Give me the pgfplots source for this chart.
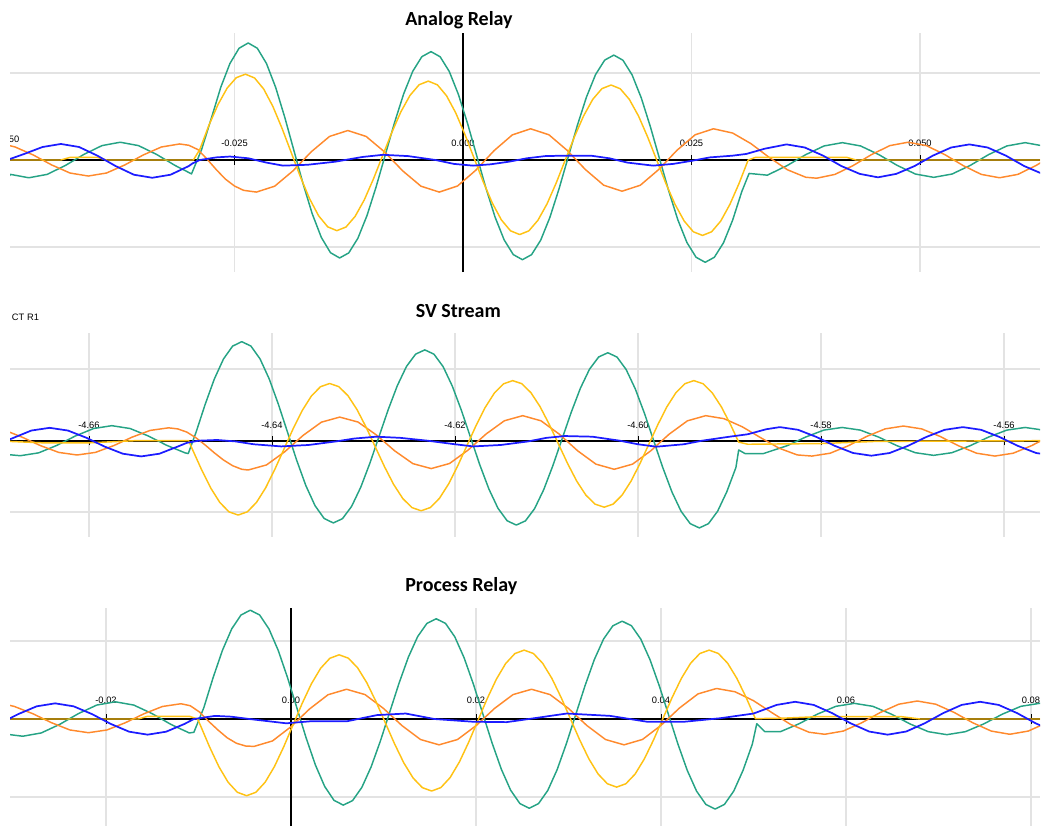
\documentclass[border=0pt]{standalone}
\usepackage{fontspec}
\setmainfont{Liberation Sans}
\newfontfamily\titlefont{Carlito}
\usepackage{pgfplots}
\pgfplotsset{compat=1.18}
\definecolor{cgreen}{RGB}{38,163,133}
\definecolor{cyellow}{RGB}{255,194,20}
\definecolor{corange}{RGB}{255,138,45}
\definecolor{cblue}{RGB}{28,28,255}
\newcommand{\tickfont}{\fontsize{7}{8}\selectfont}
\pgfplotsset{
  wavebase/.style={
    scale only axis, width=772.5pt,
    axis lines=middle,
    axis line style={-},
    every inner x axis line/.append style={-, black, line width=1.4pt},
    every inner y axis line/.append style={-, black, line width=1.2pt},
    enlargelimits=false,
    grid=major,
    grid style={draw=gray!22, line width=1.3pt},
    ytick={-1,1}, yticklabels={},
    ytick style={draw=none},
    xtick style={black, line width=0.7pt},
    major tick length=7pt,
    tick align=center,
    hide obscured x ticks=false,
    xticklabel style={font=\tickfont, anchor=base, inner sep=0pt},
    every axis plot/.append style={line width=1.1pt, line join=round},
  },
}
\begin{document}
\begin{tikzpicture}
% ---------------- Panel 1: Analog Relay ----------------
\begin{axis}[wavebase, at={(7.5pt,-204pt)}, anchor=south west, height=179.25pt,
  xmin=-49.56, xmax=63.13, ymin=-1.292, ymax=1.465,
  xticklabel style={yshift=13.3pt},
  xtick={-25,0,25,50}, xticklabels={-0.025,0.000,0.025,0.050}]
\addplot[cgreen] coordinates {
(-49.6,-0.18) (-49.5,-0.166) (-47.5,-0.205) (-45.5,-0.166) (-43.5,-0.063) (-41.5,0.063) (-39.5,0.166) (-37.5,0.205) (-35.5,0.166) (-33.5,0.063) (-31.5,-0.063) (-29.7,-0.16)
(-28.6,0.12) (-27.5,0.493) (-26.5,0.839) (-25.5,1.113) (-24.5,1.289) (-23.5,1.35)
(-22.5,1.289) (-21.5,1.113) (-20.5,0.839) (-19.5,0.493) (-18.5,0.11) (-17.5,-0.273) (-16.5,-0.619) (-15.5,-0.893) (-14.5,-1.069) (-13.5,-1.13)
(-12.5,-1.072) (-11.5,-0.903) (-10.5,-0.640) (-9.5,-0.308) (-8.5,0.06) (-7.5,0.428) (-6.5,0.760) (-5.5,1.023) (-4.5,1.192) (-3.5,1.25)
(-2.5,1.191) (-1.5,1.021) (-0.5,0.756) (0.5,0.421) (1.5,0.05) (2.5,-0.321) (3.5,-0.656) (4.5,-0.921) (5.5,-1.091) (6.5,-1.15)
(7.5,-1.092) (8.5,-0.925) (9.5,-0.664) (10.5,-0.335) (11.5,0.03) (12.5,0.395) (13.5,0.724) (14.5,0.985) (15.5,1.152) (16.5,1.21)
(17.5,1.151) (18.5,0.982) (19.5,0.718) (20.5,0.384) (21.5,0.015) (22.5,-0.354) (23.5,-0.688) (24.5,-0.952) (25.5,-1.122) (26.5,-1.18)
(27.5,-1.122) (28.5,-0.955) (29.5,-0.694) (30.5,-0.365) (31.3,-0.155)
(33.3,-0.175) (35.5,-0.062) (37.5,0.062) (39.5,0.162) (41.5,0.2) (43.5,0.162) (45.5,0.062) (47.5,-0.062) (49.5,-0.162) (51.5,-0.2) (53.5,-0.162) (55.5,-0.062) (57.5,0.062) (59.5,0.162) (61.5,0.2) (63.5,0.162)
};
\addplot[corange] coordinates {
(-49.6,0.166) (-49,0.15) (-47,0.057) (-45,-0.057) (-43,-0.15) (-41,-0.185) (-39,-0.15) (-37,-0.057) (-35,0.057) (-33,0.15) (-31,0.185)
(-30,0.17) (-29,0.12) (-28,0.01) (-27,-0.11) (-26,-0.22) (-25,-0.30) (-24,-0.35) (-22.6,-0.37)
(-20.6,-0.302) (-18.6,-0.125) (-16.6,0.095) (-14.6,0.272) (-12.6,0.34)
(-10.6,0.272) (-8.6,0.095) (-6.6,-0.125) (-4.6,-0.302) (-2.6,-0.37)
(-0.6,-0.30) (1.4,-0.118) (3.4,0.108) (5.4,0.29) (7.4,0.36)
(9.4,0.291) (11.4,0.111) (13.4,-0.111) (15.4,-0.291) (17.4,-0.36)
(19.4,-0.291) (21.4,-0.111) (23.4,0.111) (25.4,0.291) (27.4,0.36)
(29.5,0.311) (31.5,0.189) (33.5,0.030) (35.5,-0.113) (37.5,-0.199) (38.7,-0.21) (40.7,-0.166) (42.7,-0.063) (44.7,0.063) (46.7,0.166) (48.7,0.205) (50.7,0.166) (52.7,0.063) (54.7,-0.063) (56.7,-0.166) (58.7,-0.205) (60.7,-0.166) (62.7,-0.063) (64.7,0.063)
};
\addplot[cyellow] coordinates {
(-49.6,0.0) (-44,0.0) (-43,0.03) (-40,0.03) (-39,0.0) (-29.5,0.0)
(-28.8,0.12) (-27.8,0.40) (-26.8,0.64) (-25.8,0.83) (-24.8,0.95) (-23.8,0.99)
(-22.8,0.946) (-21.8,0.818) (-20.8,0.618) (-19.8,0.366) (-18.8,0.088) (-17.8,-0.191) (-16.8,-0.443) (-15.8,-0.643) (-14.8,-0.771) (-13.8,-0.815)
(-12.8,-0.773) (-11.8,-0.650) (-10.8,-0.460) (-9.8,-0.219) (-8.8,0.048) (-7.8,0.314) (-6.8,0.555) (-5.8,0.745) (-4.8,0.868) (-3.8,0.91)
(-2.8,0.867) (-1.8,0.741) (-0.8,0.545) (0.2,0.298) (1.2,0.025) (2.2,-0.248) (3.2,-0.495) (4.2,-0.691) (5.2,-0.817) (6.2,-0.86)
(7.2,-0.818) (8.2,-0.695) (9.2,-0.505) (10.2,-0.264) (11.2,0.003) (12.2,0.269) (13.2,0.510) (14.2,0.700) (15.2,0.823) (16.2,0.865)
(17.2,0.822) (18.2,0.699) (19.2,0.508) (20.2,0.266) (21.2,-0.003) (22.2,-0.271) (23.2,-0.512) (24.2,-0.704) (25.2,-0.828) (26.2,-0.87)
(27.2,-0.828) (28.2,-0.704) (29.2,-0.512) (30.2,-0.271) (31.2,0.0)
(32,0.03) (42,0.03) (43,0.0) (63.2,0.0)
};
\addplot[cblue, line width=1.3pt] coordinates {
(-49.6,0.01) (-48,0.07) (-46,0.15) (-44,0.185) (-42,0.15) (-40,0.05) (-38,-0.07) (-36,-0.17) (-34,-0.205) (-32,-0.17) (-30,-0.07) (-29.6,-0.04)
(-28.8,0.0) (-27,0.03) (-25.5,0.04) (-23.5,0.02) (-21.5,-0.03) (-19.7,-0.065) (-17,-0.055) (-14,-0.02) (-11,0.035) (-8.75,0.06) (-6,0.045) (-3,0.0) (-1,-0.045) (1.1,-0.065) (3,-0.05) (5,-0.02) (7,0.02) (9,0.045) (11,0.05) (14,0.05) (16,0.02) (18,-0.03) (20.8,-0.065) (23,-0.045) (25,-0.01) (27,0.03) (29.5,0.05) (31,0.07) (33,0.13)
(35.4,0.18) (37.4,0.144) (39.4,0.05) (41.4,-0.07) (43.4,-0.16) (45.4,-0.2) (47.4,-0.16) (49.4,-0.07) (51.4,0.05) (53.4,0.144) (55.4,0.18) (57.4,0.144) (59.4,0.05) (61.4,-0.07) (63.4,-0.16)
};
\node[font=\tickfont, anchor=base, inner sep=0pt, yshift=13.3pt] at (axis cs:-50,0) {-0.050};
\end{axis}
% ---------------- Panel 2: SV Stream ----------------
\begin{axis}[wavebase, at={(7.5pt,-402.75pt)}, anchor=south west, height=153pt,
  xmin=-4668.63, xmax=-4556.07, ymin=-1.347, ymax=1.506,
  every inner y axis line/.append style={draw=none},
  xticklabel style={yshift=12.5pt},
  xtick={-4660,-4640,-4620,-4600,-4580,-4560}, xticklabels={-4.66,-4.64,-4.62,-4.60,-4.58,-4.56}]
\addplot[cgreen] coordinates {
(-4668.63,-0.197) (-4667.5,-0.21) (-4665.5,-0.17) (-4663.5,-0.065) (-4661.5,0.065) (-4659.5,0.17) (-4657.5,0.21) (-4655.5,0.17) (-4653.5,0.065) (-4651.5,-0.065) (-4649.5,-0.17) (-4649.15,-0.18)
(-4648.3,0.1175) (-4647.3,0.509) (-4646.3,0.863) (-4645.3,1.143) (-4644.3,1.323) (-4643.3,1.385)
(-4642.3,1.323) (-4641.3,1.143) (-4640.3,0.863) (-4639.3,0.509) (-4638.3,0.1175) (-4637.3,-0.274) (-4636.3,-0.628) (-4635.3,-0.908) (-4634.3,-1.088) (-4633.3,-1.15)
(-4632.3,-1.091) (-4631.3,-0.919) (-4630.3,-0.651) (-4629.3,-0.314) (-4628.3,0.06) (-4627.3,0.434) (-4626.3,0.771) (-4625.3,1.039) (-4624.3,1.211) (-4623.3,1.27)
(-4622.3,1.21) (-4621.3,1.036) (-4620.3,0.765) (-4619.3,0.424) (-4618.3,0.045) (-4617.3,-0.334) (-4616.3,-0.675) (-4615.3,-0.946) (-4614.3,-1.12) (-4613.3,-1.18)
(-4612.3,-1.121) (-4611.3,-0.95) (-4610.3,-0.683) (-4609.3,-0.347) (-4608.3,0.025) (-4607.3,0.397) (-4606.3,0.733) (-4605.3,1.0) (-4604.3,1.171) (-4603.3,1.23)
(-4602.3,1.17) (-4601.3,0.996) (-4600.3,0.725) (-4599.3,0.384) (-4598.3,0.005) (-4597.3,-0.374) (-4596.3,-0.715) (-4595.3,-0.986) (-4594.3,-1.16) (-4593.3,-1.22)
(-4592.3,-1.16) (-4591.3,-0.986) (-4590.3,-0.715) (-4589.3,-0.374) (-4589.0,-0.13) (-4588.3,-0.18)
(-4586.3,-0.18) (-4583.7,-0.07) (-4581.7,0.05) (-4579.7,0.148) (-4577.7,0.185) (-4575.7,0.148) (-4573.7,0.05) (-4571.7,-0.07) (-4569.7,-0.168) (-4567.7,-0.205) (-4565.7,-0.168) (-4563.7,-0.07) (-4561.7,0.05) (-4559.7,0.148) (-4557.7,0.185) (-4555.7,0.148)
};
\addplot[corange] coordinates {
(-4668.63,0.117) (-4667.3,0.049) (-4665.3,-0.069) (-4663.3,-0.164) (-4661.3,-0.2) (-4659.3,-0.164) (-4657.3,-0.069) (-4655.3,0.049) (-4653.3,0.144) (-4651.3,0.18)
(-4650.3,0.165) (-4649.3,0.12) (-4648.3,0.04) (-4647.3,-0.06) (-4646.3,-0.17) (-4645.3,-0.27) (-4644.3,-0.35) (-4643.3,-0.40) (-4642.6,-0.41)
(-4640.6,-0.339) (-4638.6,-0.154) (-4636.6,0.074) (-4634.6,0.259) (-4632.6,0.33)
(-4630.6,0.261) (-4628.6,0.081) (-4626.6,-0.141) (-4624.6,-0.321) (-4622.6,-0.39)
(-4620.6,-0.319) (-4618.6,-0.134) (-4616.6,0.094) (-4614.6,0.279) (-4612.6,0.35)
(-4610.6,0.278) (-4608.6,0.091) (-4606.6,-0.141) (-4604.6,-0.328) (-4602.6,-0.40)
(-4600.6,-0.328) (-4598.6,-0.141) (-4596.6,0.091) (-4594.6,0.278) (-4592.6,0.35)
(-4590.6,0.308) (-4588.6,0.194) (-4586.6,0.042) (-4584.6,-0.104) (-4582.6,-0.199) (-4581,-0.215) (-4579,-0.175) (-4577,-0.07) (-4575,0.06) (-4573,0.165) (-4571,0.205) (-4569,0.165) (-4567,0.06) (-4565,-0.07) (-4563,-0.175) (-4561,-0.215) (-4559,-0.175) (-4557,-0.07) (-4555,0.06)
};
\addplot[cyellow] coordinates {
(-4668.7,-0.01) (-4665,-0.03) (-4660,-0.03) (-4655,0.0) (-4649.1,0.0)
(-4648.7,-0.12) (-4647.7,-0.404) (-4646.7,-0.661) (-4645.7,-0.864) (-4644.7,-0.995) (-4643.7,-1.04)
(-4642.7,-0.995) (-4641.7,-0.864) (-4640.7,-0.661) (-4639.7,-0.404) (-4638.7,-0.12) (-4637.7,0.164) (-4636.7,0.421) (-4635.7,0.624) (-4634.7,0.755) (-4633.7,0.80)
(-4632.7,0.756) (-4631.7,0.63) (-4630.7,0.433) (-4629.7,0.185) (-4628.7,-0.09) (-4627.7,-0.365) (-4626.7,-0.613) (-4625.7,-0.81) (-4624.7,-0.936) (-4623.7,-0.98)
(-4622.7,-0.935) (-4621.7,-0.806) (-4620.7,-0.605) (-4619.7,-0.351) (-4618.7,-0.07) (-4617.7,0.211) (-4616.7,0.465) (-4615.7,0.666) (-4614.7,0.795) (-4613.7,0.84)
(-4612.7,0.797) (-4611.7,0.671) (-4610.7,0.475) (-4609.7,0.228) (-4608.7,-0.045) (-4607.7,-0.318) (-4606.7,-0.565) (-4605.7,-0.761) (-4604.7,-0.887) (-4603.7,-0.93)
(-4602.72,-0.887) (-4601.74,-0.761) (-4600.76,-0.565) (-4599.78,-0.318) (-4598.8,-0.045) (-4597.82,0.228) (-4596.84,0.475) (-4595.86,0.671) (-4594.88,0.797) (-4593.9,0.84)
(-4592.9,0.797) (-4591.9,0.671) (-4590.9,0.475) (-4589.9,0.228) (-4589.0,-0.02)
(-4588,-0.05) (-4580,-0.04) (-4574,-0.01) (-4556,0.0)
};
\addplot[cblue, line width=1.3pt] coordinates {
(-4668.63,0.02) (-4666.3,0.142) (-4664.3,0.18) (-4662.3,0.142) (-4660.3,0.042) (-4658.3,-0.082) (-4656.3,-0.182) (-4654.3,-0.22) (-4652.3,-0.182) (-4650.3,-0.082) (-4649.3,-0.03)
(-4648,0.0) (-4646,0.01) (-4644,-0.01) (-4642,-0.05) (-4639,-0.08) (-4636,-0.06) (-4633,-0.01) (-4631,0.03) (-4628.6,0.056) (-4626,0.04) (-4623,0.0) (-4620,-0.05) (-4618,-0.08) (-4615,-0.06) (-4612,-0.01) (-4610,0.04) (-4608,0.065) (-4605,0.056) (-4602,0.0) (-4600,-0.05) (-4598,-0.084) (-4595,-0.05) (-4593,0.0) (-4590,0.056) (-4588,0.09) (-4586,0.16) (-4584.5,0.19)
(-4582.5,0.152) (-4580.5,0.052) (-4578.5,-0.072) (-4576.5,-0.172) (-4574.5,-0.21) (-4572.5,-0.172) (-4570.5,-0.072) (-4568.5,0.052) (-4566.5,0.152) (-4564.5,0.19) (-4562.5,0.152) (-4560.5,0.052) (-4558.5,-0.072) (-4556.5,-0.172) (-4554.5,-0.21)
};
\end{axis}
% ---------------- Panel 3: Process Relay ----------------
\begin{axis}[wavebase, at={(7.5pt,-619.5pt)}, anchor=south west, height=163.5pt,
  xmin=-30.38, xmax=80.97, ymin=-1.367, ymax=1.418,
  xticklabel style={yshift=15.2pt},
  xtick={-20,0,20,40,60,80}, xticklabels={-0.02,0.00,0.02,0.04,0.06,0.08}]
\addplot[cgreen] coordinates {
(-30.38,-0.2) (-29,-0.22) (-27,-0.178) (-25,-0.068) (-23,0.068) (-21,0.178) (-19,0.22) (-17,0.178) (-15,0.068) (-13,-0.068) (-11,-0.178) (-10.5,-0.17)
(-9.425,0.145) (-8.42,0.53) (-7.415,0.877) (-6.41,1.152) (-5.405,1.329) (-4.4,1.39)
(-3.395,1.329) (-2.39,1.152) (-1.385,0.877) (-0.38,0.53) (0.625,0.145) (1.63,-0.24) (2.635,-0.587) (3.64,-0.862) (4.645,-1.039) (5.65,-1.10)
(6.655,-1.042) (7.66,-0.873) (8.665,-0.61) (9.67,-0.278) (10.675,0.09) (11.68,0.458) (12.685,0.79) (13.69,1.053) (14.695,1.222) (15.7,1.28)
(16.705,1.221) (17.71,1.049) (18.715,0.781) (19.72,0.444) (20.725,0.07) (21.73,-0.304) (22.735,-0.641) (23.74,-0.909) (24.745,-1.081) (25.75,-1.14)
(26.755,-1.081) (27.76,-0.912) (28.765,-0.648) (29.77,-0.314) (30.775,0.055) (31.78,0.424) (32.785,0.758) (33.79,1.022) (34.795,1.191) (35.8,1.25)
(36.805,1.191) (37.81,1.021) (38.815,0.756) (39.82,0.421) (40.825,0.05) (41.83,-0.321) (42.835,-0.656) (43.84,-0.921) (44.845,-1.091) (45.85,-1.15)
(46.855,-1.091) (47.86,-0.921) (48.865,-0.656) (49.87,-0.321) (50.35,-0.06)
(51.2,-0.16) (52.9,-0.162) (54.9,-0.062) (56.9,0.062) (58.9,0.162) (60.9,0.2) (62.9,0.162) (64.9,0.062) (66.9,-0.062) (68.9,-0.162) (70.9,-0.2) (72.9,-0.162) (74.9,-0.062) (76.9,0.062) (78.9,0.162) (80.9,0.2) (82.9,0.162)
};
\addplot[corange] coordinates {
(-30.38,0.174) (-29.9,0.16) (-27.9,0.067) (-25.9,-0.047) (-23.9,-0.14) (-21.9,-0.175) (-19.9,-0.14) (-17.9,-0.047) (-15.9,0.067) (-13.9,0.16) (-11.9,0.195)
(-10.9,0.17) (-9.9,0.09) (-8.9,-0.03) (-7.9,-0.14) (-6.9,-0.24) (-5.9,-0.31) (-4.9,-0.345) (-4.0,-0.35)
(-2,-0.28) (0,-0.098) (2,0.128) (4,0.31) (6,0.38)
(8,0.312) (10,0.135) (12,-0.085) (14,-0.262) (16,-0.33)
(18,-0.262) (20,-0.085) (22,0.135) (24,0.312) (26,0.38)
(28,0.312) (30,0.135) (32,-0.085) (34,-0.262) (36,-0.33)
(38,-0.261) (40,-0.081) (42,0.141) (44,0.321) (46,0.39)
(48,0.348) (50,0.234) (52,0.08) (54,-0.069) (56,-0.169) (57.7,-0.195) (59.7,-0.154) (61.7,-0.048) (63.7,0.083) (65.7,0.189) (67.7,0.23) (69.7,0.189) (71.7,0.083) (73.7,-0.048) (75.7,-0.154) (77.7,-0.195) (79.7,-0.154) (81.7,-0.048)
};
\addplot[cyellow] coordinates {
(-30.4,0.0) (-16.5,0.0) (-15.5,0.035) (-11,0.035) (-10.1,0.0)
(-9.8,-0.08) (-8.8,-0.358) (-7.8,-0.609) (-6.8,-0.808) (-5.8,-0.936) (-4.8,-0.98)
(-3.8,-0.936) (-2.8,-0.808) (-1.8,-0.609) (-0.8,-0.358) (0.2,-0.08) (1.2,0.198) (2.2,0.449) (3.2,0.648) (4.2,0.776) (5.2,0.82)
(6.2,0.777) (7.2,0.654) (8.2,0.462) (9.2,0.219) (10.2,-0.05) (11.2,-0.319) (12.2,-0.562) (13.2,-0.754) (14.2,-0.877) (15.2,-0.92)
(16.2,-0.876) (17.2,-0.748) (18.2,-0.549) (19.2,-0.298) (20.2,-0.02) (21.2,0.258) (22.2,0.509) (23.2,0.708) (24.2,0.836) (25.2,0.88)
(26.2,0.837) (27.2,0.713) (28.2,0.519) (29.2,0.275) (30.2,0.005) (31.2,-0.265) (32.2,-0.509) (33.2,-0.703) (34.2,-0.827) (35.2,-0.87)
(36.2,-0.827) (37.2,-0.703) (38.2,-0.509) (39.2,-0.265) (40.2,0.005) (41.2,0.275) (42.2,0.519) (43.2,0.713) (44.2,0.837) (45.2,0.88)
(46.2,0.837) (47.2,0.713) (48.2,0.519) (49.2,0.275) (50.2,0.005)
(53,0.01) (57,0.03) (66,0.03) (68,0.0) (81,0.0)
};
\addplot[cblue, line width=1.3pt] coordinates {
(-30.4,0.008) (-29.5,0.062) (-27.5,0.162) (-25.5,0.2) (-23.5,0.162) (-21.5,0.062) (-19.5,-0.062) (-17.5,-0.162) (-15.5,-0.2) (-13.5,-0.162) (-11.5,-0.062) (-10.5,0.0)
(-8.2,0.04) (-6.5,0.03) (-4.5,0.0) (-0.5,-0.055) (2,-0.03) (6,-0.03) (9.3,0.05) (12.4,0.07) (15.5,0.0) (19.7,-0.035) (23.3,-0.04) (25.7,0.0) (29.8,0.07) (34.5,0.04) (38.5,-0.035) (42.5,-0.035) (46.4,0.01) (50,0.07)
(52.5,0.18) (54.5,0.22) (56.5,0.18) (58.5,0.075) (60.5,-0.055) (62.5,-0.16) (64.5,-0.2) (66.5,-0.16) (68.5,-0.055) (70.5,0.075) (72.5,0.18) (74.5,0.22) (76.5,0.18) (78.5,0.075) (80.5,-0.055) (82.5,-0.16)
};
\end{axis}
% ---------------- titles ----------------
\node[anchor=base, inner sep=0pt, font=\titlefont\bfseries\fontsize{15}{17}\selectfont] at (344.25pt,-18.75pt) {Analog Relay};
\node[anchor=base, inner sep=0pt, font=\titlefont\bfseries\fontsize{15}{17}\selectfont] at (343.75pt,-238.3pt) {SV Stream};
\node[anchor=base, inner sep=0pt, font=\titlefont\bfseries\fontsize{15}{17}\selectfont] at (346pt,-443.25pt) {Process Relay};
\node[anchor=base west, inner sep=0pt, font=\tickfont] at (8.8pt,-240pt) {CT R1};
\pgfresetboundingbox
\path[use as bounding box] (0,0) rectangle (780.75pt,-624pt);
\end{tikzpicture}
\end{document}
